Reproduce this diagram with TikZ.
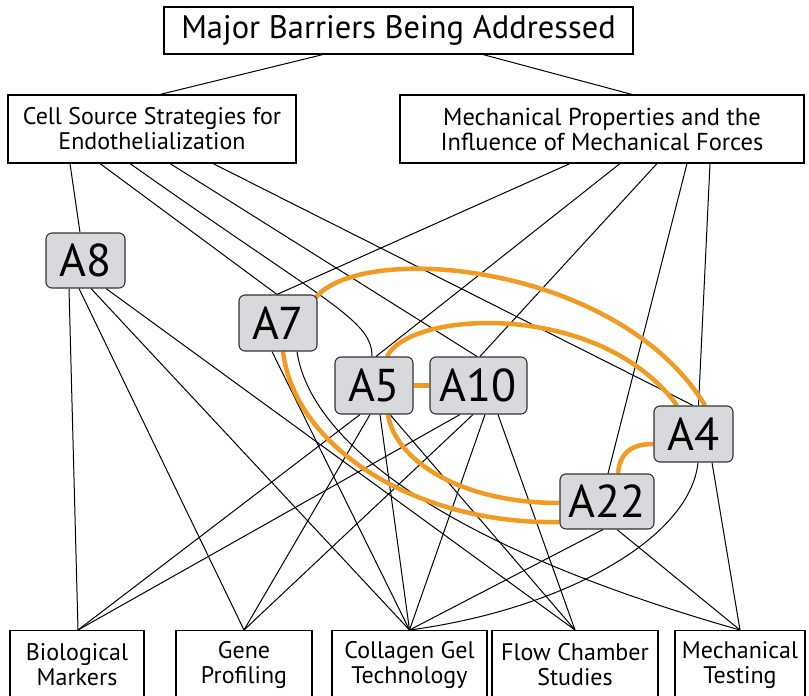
\documentclass[tikz,border=0pt]{standalone}
\usepackage{fontspec}
\setmainfont{PT Sans}
\usetikzlibrary{backgrounds}
\definecolor{arcorange}{RGB}{242,155,35}
\definecolor{boxgray}{RGB}{216,217,220}
\begin{document}
\begin{tikzpicture}[x=1pt,y=-1pt,
  conn/.style={line width=1pt,black},
  arcline/.style={line width=4.5pt,arcorange},
  barrier/.style={draw,line width=1.1pt,inner sep=0pt,align=center},
  anode/.style={draw=black!80,fill=boxgray,rounded corners=6pt,line width=1.1pt,inner sep=0pt,font=\fontsize{46}{46}\selectfont},
  method/.style={draw,line width=1.1pt,inner sep=0pt,align=center,anchor=north,minimum height=68,font=\fontsize{24}{25}\selectfont}
]
\clip (0,0) rectangle (809,696);
% barrier boxes
\node[barrier,minimum width=469,minimum height=47,font=\fontsize{32.5}{32}\selectfont] (top) at (398.5,30.5) {Major Barriers Being Addressed};
\node[barrier,minimum width=288,minimum height=68,font=\fontsize{24}{25}\selectfont] (cs) at (152,129) {Cell Source Strategies for\\Endothelialization};
\node[barrier,minimum width=404,minimum height=68,font=\fontsize{24.5}{25}\selectfont] (mp) at (602,129) {Mechanical Properties and the\\Influence of Mechanical Forces};
% A nodes
\node[anode,minimum width=79,minimum height=55] (a8) at (85.5,260.5) {A8};
\node[anode,minimum width=78,minimum height=56] (a7) at (278,323) {A7};
\node[anode,minimum width=78,minimum height=57] (a5) at (374,385.5) {A5};
\node[anode,minimum width=97,minimum height=57] (a10) at (478.5,385.5) {A10};
\node[anode,minimum width=79,minimum height=56] (a4) at (693.5,434) {A4};
\node[anode,minimum width=94,minimum height=55] (a22) at (607,501.5) {A22};
% method boxes
\node[method,minimum width=134] (bm) at (77,630) {Biological\\Markers};
\node[method,minimum width=136] (gp) at (244,630) {Gene\\Profiling};
\node[method,minimum width=155] (cg) at (409.5,630) {Collagen Gel\\Technology};
\node[method,minimum width=166] (fc) at (575,630) {Flow Chamber\\Studies};
\node[method,minimum width=130] (mt) at (740,630) {Mechanical\\Testing};

\begin{scope}[on background layer]
\draw[conn] ([xshift=-75.5]top.south) -- ([xshift=8]cs.north);
\draw[conn] ([xshift=84.5]top.south) -- ([xshift=30]mp.north);
% cell source
\draw[conn] ([xshift=-82]cs.south) -- ([xshift=-5.5]a8.north);
\draw[conn] ([xshift=-52]cs.south) -- ([xshift=-1]a7.north);
\draw[conn] ([xshift=-22]cs.south) .. controls (330,305) and (372,320) .. ([xshift=-2]a5.north);
\draw[conn] ([xshift=18]cs.south) -- ([xshift=-1.5]a10.north);
\draw[conn] ([xshift=61]cs.south) -- ([xshift=-0.5]a4.north);
% mechanical properties
\draw[conn] ([xshift=-32]mp.south) -- ([xshift=-1]a7.north);
\draw[conn] ([xshift=18]mp.south) -- ([xshift=2]a5.north);
\draw[conn] ([xshift=55]mp.south) -- ([xshift=1.5]a10.north);
\draw[conn] ([xshift=85]mp.south) -- ([xshift=1]a22.north);
\draw[conn] ([xshift=108]mp.south) -- ([xshift=5]a4.north);
% A8
\draw[conn] ([xshift=-16.5]a8.south) -- ([xshift=1]bm.north);
\draw[conn] ([xshift=-6.5]a8.south) -- (gp.north);
\draw[conn] ([xshift=5.5]a8.south) -- (cg.north);
\draw[conn] ([xshift=20.5]a8.south) -- (fc.north);
% A7
\draw[conn] ([xshift=-6]a7.south) -- (cg.north);
\draw[conn] ([xshift=19]a7.south) .. controls (310,440) and (440,545) .. (mt.north);
% A5
\draw[conn] ([xshift=-14]a5.south) -- ([xshift=1]bm.north);
\draw[conn] ([xshift=-4]a5.south) -- (gp.north);
\draw[conn] ([xshift=6]a5.south) -- (cg.north);
\draw[conn] ([xshift=16]a5.south) -- (fc.north);
% A10
\draw[conn] ([xshift=-18.5]a10.south) -- ([xshift=1]bm.north);
\draw[conn] ([xshift=-5.5]a10.south) -- (gp.north);
\draw[conn] ([xshift=6.5]a10.south) -- (cg.north);
\draw[conn] ([xshift=19.5]a10.south) -- (fc.north);
% A22
\draw[conn] ([xshift=-4]a22.south) -- (cg.north);
\draw[conn] ([xshift=10]a22.south) -- (mt.north);
% A4
\draw[conn] ([xshift=4.5]a4.south) .. controls (690,540) and (560,610) .. (cg.north);
\draw[conn] ([xshift=18.5]a4.south) -- (mt.north);
% orange links
\draw[arcline] ([shift={(-2,3)}]a7.north east) .. controls (365,240) and (620,265) .. ([xshift=11.5]a4.north);
\draw[arcline] ([xshift=13]a5.north) .. controls (410,310) and (600,300) .. ([xshift=-16.5]a4.north);
\draw[arcline] (a5.east) -- (a10.west);
\draw[arcline] ([xshift=5]a7.south) .. controls (295,450) and (420,525) .. ([yshift=-20.5]a22.west);
\draw[arcline] ([xshift=14]a5.south) .. controls (395,460) and (460,503) .. ([yshift=-1.5]a22.west);
\draw[arcline] ([xshift=11]a22.north) .. controls (620,450) and (635,444) .. ([yshift=-10]a4.west);
\end{scope}
\end{tikzpicture}
\end{document}
